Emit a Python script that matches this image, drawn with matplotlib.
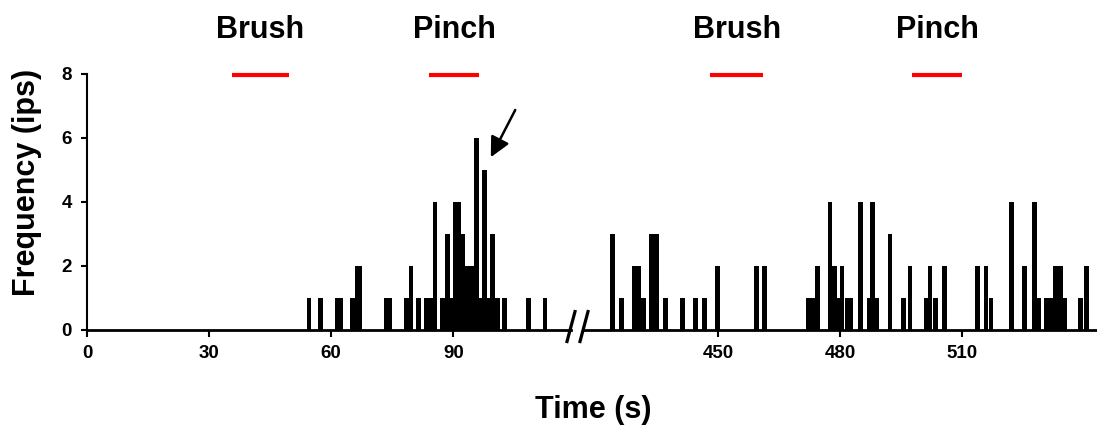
import matplotlib
matplotlib.use("Agg")
import matplotlib.pyplot as plt

# ---- data ----
left_times = [54.5, 57.4, 61.4, 62.3, 65.2, 66.3, 67.1, 73.5, 74.4, 78.5, 79.6,
              81.5, 83.4, 84.4, 85.5, 87.4, 88.6, 89.6, 90.5, 91.4, 92.4, 93.5,
              94.5, 95.7, 96.6, 97.6, 98.5, 99.6, 100.8, 102.5, 108.5, 112.5]
left_freq = [1, 1, 1, 1, 1, 2, 2, 1, 1, 1, 2,
             1, 1, 1, 4, 1, 3, 1, 4, 4, 3, 2,
             2, 6, 1, 5, 1, 3, 1, 1, 1, 1]

right_times = [424.1, 426.3, 429.5, 430.4, 431.6, 433.6, 434.9, 437.1, 441.2,
               444.5, 446.7, 449.8, 459.4, 461.5, 472.2, 473.3, 474.4, 477.5,
               478.7, 479.7, 480.5, 481.7, 482.7, 485.0, 487.1, 488.0, 489.1,
               492.3, 495.6, 497.2, 501.1, 502.1, 503.4, 505.7, 513.8, 515.9,
               517.1, 522.1, 525.4, 527.7, 528.8, 530.8, 531.9, 533.0, 534.1,
               535.1, 539.1, 540.5]
right_freq = [3, 1, 2, 2, 1, 3, 3, 1, 1,
              1, 1, 2, 2, 2, 1, 1, 2, 4,
              2, 1, 2, 1, 1, 4, 1, 4, 1,
              3, 1, 2, 1, 2, 1, 2, 2, 2,
              1, 4, 2, 4, 1, 1, 1, 2, 2,
              1, 1, 2]

brush_periods = [(35.6, 49.6), (448.0, 461.1)]
pinch_periods = [(84.0, 96.3), (497.7, 510.0)]

left_ticks = [0, 30, 60, 90]
right_ticks = [450, 480, 510]
y_ticks = [0, 2, 4, 6, 8]
left_xlim = (0, 118.9)
right_xlim = (417.05, 542.9)

plt.rcParams['font.family'] = ['Liberation Sans', 'DejaVu Sans']
plt.rcParams['font.weight'] = 'bold'

W, H = 1097, 433
fig = plt.figure(figsize=(W / 100, H / 100), dpi=100)


def px(x0, x1, ytop, ybot):
    return [x0 / W, 1 - ybot / H, (x1 - x0) / W, (ybot - ytop) / H]


axL = fig.add_axes(px(87, 571, 74, 330))
axR = fig.add_axes(px(584, 1096, 74, 330))

BAR_W = 1.15
TICK_FS = 13.5
for ax, t, f, xl, ticks in [(axL, left_times, left_freq, left_xlim, left_ticks),
                            (axR, right_times, right_freq, right_xlim, right_ticks)]:
    ax.bar(t, f, width=BAR_W, color='black', linewidth=0)
    ax.set_xlim(*xl)
    ax.set_ylim(0, 8)
    ax.set_xticks(ticks)
    ax.set_xticklabels([str(v) for v in ticks], fontsize=TICK_FS, fontweight='bold')
    for s in ['top', 'right']:
        ax.spines[s].set_visible(False)
    ax.spines['bottom'].set_linewidth(2)
    ax.tick_params(axis='x', direction='out', length=5, width=1.5, pad=6)
    ax.patch.set_alpha(0)

axL.set_yticks(y_ticks)
axL.set_yticklabels([str(v) for v in y_ticks], fontsize=TICK_FS, fontweight='bold')
axL.spines['left'].set_linewidth(1.5)
axL.tick_params(axis='y', direction='out', length=4, width=1.5, pad=7)
axR.spines['left'].set_visible(False)
axR.set_yticks([])

# stimulus bars and labels
for ax in (axL, axR):
    lo, hi = ax.get_xlim()
    for periods, name in [(brush_periods, 'Brush'), (pinch_periods, 'Pinch')]:
        for a, b in periods:
            if lo <= a <= hi:
                ax.plot([a, b], [7.97, 7.97], color='#FF0000', lw=3,
                        solid_capstyle='butt', clip_on=False)
                ax.text((a + b) / 2, 9.13, name, ha='center', va='baseline',
                        fontsize=22, fontweight='bold', clip_on=False)

# axis break marks
dxL = 4 / 484
dxR = 4 / 512
axL.plot([1 - dxL, 1 + dxL], [-0.045, 0.072], transform=axL.transAxes,
         color='black', lw=2.3, clip_on=False)
axR.plot([-dxR, dxR], [-0.045, 0.072], transform=axR.transAxes,
         color='black', lw=2.3, clip_on=False)

# arrow
axL.annotate('', xy=(99.2, 5.40), xytext=(105.2, 6.875),
             arrowprops=dict(arrowstyle='-|>', color='black', lw=1.8,
                             mutation_scale=30, shrinkA=0, shrinkB=0))

fig.text(27 / W, 1 - 182 / H, 'Frequency (ips)', rotation=90, ha='center',
         va='center', fontsize=22, fontweight='bold')
fig.text(593 / W, 1 - 410 / H, 'Time (s)', ha='center', va='center',
         fontsize=22, fontweight='bold')

fig.savefig('out.png', dpi=100)
